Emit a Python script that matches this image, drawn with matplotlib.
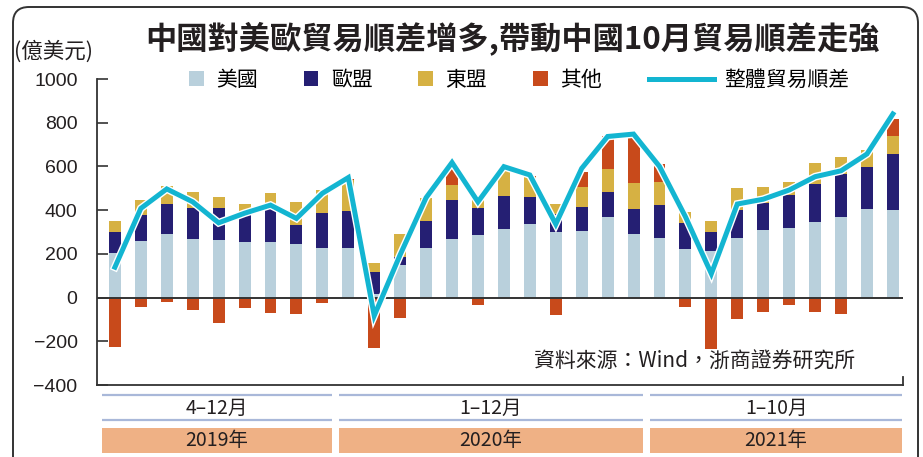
import numpy as np
import matplotlib
matplotlib.use("Agg")
import matplotlib.pyplot as plt
from matplotlib.patches import Patch, Rectangle, FancyBboxPatch
from matplotlib.lines import Line2D
import matplotlib.patheffects as pe
from matplotlib.transforms import IdentityTransform

plt.rcParams['font.family'] = ['Noto Sans CJK TC', 'DejaVu Sans']

# ---------------- data (億美元) ----------------
us = [202, 257, 290, 267, 262, 253, 253, 244, 225,
      227, 17, 148, 227, 268, 285, 313, 336, 299, 304, 368, 290,
      271, 220, 211, 271, 308, 317, 345, 368, 405, 400]
eu = [97, 120, 138, 142, 147, 132, 151, 87, 161,
      170, 99, 37, 122, 179, 124, 151, 124, 83, 110, 115, 115,
      151, 120, 87, 129, 124, 152, 174, 197, 193, 257]
asean = [50, 69, 82, 74, 51, 43, 74, 106, 106,
         142, 42, 106, 106, 68, 41, 116, 90, 46, 92, 106, 119,
         108, 51, 51, 101, 74, 60, 97, 79, 78, 83]
other = [-228, -45, -22, -58, -118, -49, -72, -77, -26,
         5, -233, -95, 0, 80, -35, 15, 8, -81, 69, 148, 208,
         81, -41, -234, -97, -65, -36, -64, -77, 0, 78]
total = [139, 408, 497, 438, 342, 386, 423, 362, 477,
         549, -83, 196, 457, 618, 438, 599, 561, 336, 591, 737, 748,
         600, 370, 109, 428, 450, 492, 553, 580, 657, 840]

series_names = ['美國', '歐盟', '東盟', '其他']
line_name = '整體貿易順差'
group_sizes = [9, 12, 10]
group_months = ['4–12月', '1–12月', '1–10月']
group_years = ['2019年', '2020年', '2021年']
yticks = [-400, -200, 0, 200, 400, 600, 800, 1000]

title = '中國對美歐貿易順差增多,帶動中國10月貿易順差走強'
unit = '(億美元)'
source = '資料來源：Wind，浙商證券研究所'

c_us, c_eu, c_as, c_ot = '#b9d0dc', '#251f73', '#d6b143', '#c84a1b'
c_line = '#13b5d1'

W, H = 923, 457
fig = plt.figure(figsize=(W / 100, H / 100), dpi=100)
fig.patch.set_facecolor('white')

def fx(px):
    return px / W

def fy(py):
    return 1 - py / H

ax = fig.add_axes([fx(97), fy(385), fx(903) - fx(97), fy(79) - fy(385)])

us_a, eu_a, as_a, ot_a = map(np.array, (us, eu, asean, other))
x = np.arange(len(us_a))
bw = 0.46
ax.bar(x, us_a, bw, color=c_us, zorder=2)
ax.bar(x, eu_a, bw, bottom=us_a, color=c_eu, zorder=2)
ax.bar(x, as_a, bw, bottom=us_a + eu_a, color=c_as, zorder=2)
ot_bottom = np.where(ot_a >= 0, us_a + eu_a + as_a, 0)
ax.bar(x, ot_a, bw, bottom=ot_bottom, color=c_ot, zorder=2)
ax.axhline(0, color='#333333', lw=1.4, zorder=3)
ax.plot(x, total, color=c_line, lw=3.6, zorder=4, solid_joinstyle='miter',
        path_effects=[pe.Stroke(linewidth=5.6, foreground='white'), pe.Normal()])

ax.set_xlim(-0.69, 30.39)
ax.set_ylim(-400, 1000)
ax.set_yticks(yticks)
ax.set_yticklabels([str(v).replace('-', '−') for v in yticks],
                   fontsize=14, family=['Liberation Sans', 'DejaVu Sans'], color='#231f20')
ax.tick_params(axis='y', direction='in', length=8, width=1.2, pad=14, color='#333333')
ax.set_xticks([])
for s in ['top', 'right']:
    ax.spines[s].set_visible(False)
for s in ['left', 'bottom']:
    ax.spines[s].set_color('#333333')
    ax.spines[s].set_linewidth(1.3)
ax.plot([1, 1], [0, 0.025], transform=ax.transAxes, color='#333333', lw=1.3, clip_on=False)
ax.set_facecolor('none')

# source text
fig.text(fx(695), fy(362), source, ha='center', va='center', fontsize=15,
         color='#231f20', fontweight='light')

# title & unit
fig.text(fx(512), fy(38), title, ha='center', va='center', fontsize=22.5,
         fontweight='bold', color='#231f20')
fig.text(fx(14), fy(52), unit, ha='left', va='center', fontsize=15.5, color='#231f20')

# legends
handles = [Patch(facecolor=c, edgecolor='none', label=n)
           for c, n in zip([c_us, c_eu, c_as, c_ot], series_names)]
leg1 = fig.legend(handles=handles, loc='center left', bbox_to_anchor=(fx(189), fy(80)),
                  ncol=4, frameon=False, fontsize=15, handlelength=0.7, handleheight=0.7,
                  handletextpad=0.6, columnspacing=2.2, borderpad=0, borderaxespad=0)
leg2 = fig.legend(handles=[Line2D([], [], color=c_line, lw=3.6, label=line_name)],
                  loc='center left', bbox_to_anchor=(fx(649), fy(80)), frameon=False,
                  fontsize=15, handlelength=3.1, handletextpad=0.5, borderpad=0,
                  borderaxespad=0)

# bottom category band
bax = fig.add_axes([fx(97), fy(457), fx(903) - fx(97), fy(388) - fy(457)])
bax.set_xlim(ax.get_xlim())
bax.set_ylim(457, 388)
bax.axis('off')
gap = 0.13
edges = np.concatenate([[0], np.cumsum(group_sizes)]) - 0.5
for i in range(len(group_sizes)):
    a, b = edges[i] + (gap if i > 0 else 0), edges[i + 1] - gap
    bax.hlines([395, 420], a, b, color='#a9b8d9', lw=1.6)
    bax.add_patch(Rectangle((a, 428), b - a, 25, facecolor='#efb185', edgecolor='none'))
    bax.text((a + b) / 2, 408, group_months[i], ha='center', va='center', fontsize=14,
             color='#231f20')
    bax.text((a + b) / 2, 441, group_years[i], ha='center', va='center', fontsize=14,
             color='#231f20')

# outer rounded frame
frame = FancyBboxPatch((13, -30), 905, 480, boxstyle='round,pad=0,rounding_size=16',
                       transform=IdentityTransform(), fill=False, edgecolor='#333333',
                       lw=1.4, clip_on=False)
fig.patches.append(frame)

fig.savefig('out.png', dpi=100, facecolor='white')
